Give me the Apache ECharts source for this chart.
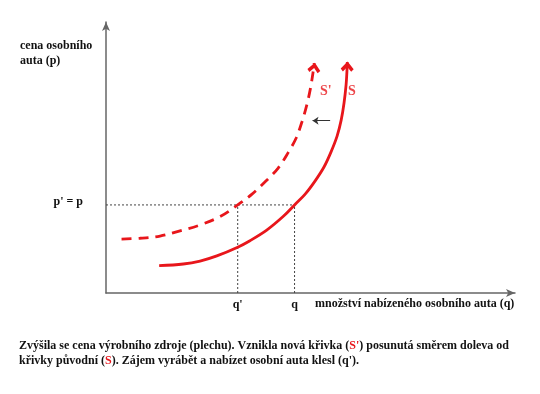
<!DOCTYPE html>
<html><head><meta charset="utf-8">
<script src="https://cdn.jsdelivr.net/npm/echarts@6/dist/echarts.min.js"></script>
<style>html,body{margin:0;padding:0;background:#fff}#c{width:540px;height:394px}</style>
</head><body><div id="c"></div>
<script>
// ---- data (abstract units, 0..100 on both axes) ----
const supplyS = [[13.0,10.1],[18.9,10.7],[23.0,11.8],[27.1,13.7],[32.2,16.9],[35.2,19.3],[39.3,23.2],[43.3,28.2],[46.1,32.5],[48.7,36.5],[51.1,41.3],[53.3,46.5],[55.0,52.0],[56.5,57.9],[57.5,63.8],[58.2,70.1],[58.7,76.8],[58.9,81.5],[59.0,85.2]];
const supplyS2 = [[3.8,19.9],[8.3,20.2],[13.2,21.0],[18.1,22.9],[23.0,25.1],[27.9,28.2],[32.2,32.5],[35.7,36.5],[39.1,41.3],[42.1,46.1],[44.5,51.7],[46.5,57.2],[47.9,63.1],[49.1,69.4],[50.0,75.6],[50.6,81.2],[50.9,84.8]];
const priceP = 32.5;
const qtyQ = 46.1;
const qtyQPrime = 32.2;
const shiftArrow = [[54.8,63.6],[50.5,63.6]];
const xTickValues = [qtyQPrime, qtyQ];
const xTickLabels = ["q'", "q"];
const yTickValues = [priceP];
const yTickLabels = ["p' = p"];
const curveNames = ["S", "S'"];
const curveLabelIndex = [16, 14];
const yTitle = "cena osobního\nauta (p)";
const xTitle = "množství nabízeného osobního auta (q)";

const RED = '#e8161b';
const FONT = '"Liberation Serif", "Times New Roman", serif';
const chevron = 'path://M50,0 L100,55 L82,75 L50,40 L18,75 L0,55 Z';

function curve(name, data, dash, rot) {
  const last = data.length - 1;
  return {
    name, type: 'line', data, smooth: 0.35, silent: true, z: 4,
    showSymbol: true, showAllSymbol: true,
    symbol: (v, p) => p.dataIndex === last ? chevron : 'none',
    symbolSize: [13, 10], symbolRotate: rot, symbolOffset: [0, '45%'],
    lineStyle: { color: RED, width: 2.8, type: dash },
    itemStyle: { color: RED }
  };
}
function guide(data) {
  return { type: 'line', data, silent: true, symbol: 'none', z: 2,
    lineStyle: { color: '#444', width: 1, type: [2, 2] } };
}
const curveLabelStyle = { color: RED, fontFamily: FONT, fontWeight: 'bold', fontSize: 14 };

const chart = echarts.init(document.getElementById('c'), null, { renderer: 'canvas' });
chart.setOption({
  animation: false,
  backgroundColor: '#fff',
  grid: { left: 106, top: 22, right: 25, bottom: 101, containLabel: false, outerBoundsMode: 'none' },
  xAxis: {
    type: 'value', min: 0, max: 100, splitLine: { show: false }, axisTick: { show: false },
    axisLine: { lineStyle: { color: '#666', width: 1.5 }, symbol: ['none', 'arrow'], symbolSize: [6, 9] },
    axisLabel: {
      customValues: xTickValues, margin: 6,
      formatter: v => xTickLabels[xTickValues.indexOf(v)],
      color: '#111', fontFamily: FONT, fontWeight: 'bold', fontSize: 12
    }
  },
  yAxis: {
    type: 'value', min: 0, max: 100, splitLine: { show: false }, axisTick: { show: false },
    axisLine: { lineStyle: { color: '#666', width: 1.5 }, symbol: ['none', 'arrow'], symbolSize: [6, 9] },
    axisLabel: {
      customValues: yTickValues, margin: 23,
      formatter: v => '{a|' + yTickLabels[yTickValues.indexOf(v)] + '}',
      rich: { a: { color: '#111', fontFamily: FONT, fontWeight: 'bold', fontSize: 12, padding: [0, 0, 6, 0] } }
    }
  },
  series: [
    guide([[0, priceP], [qtyQ, priceP]]),
    guide([[qtyQPrime, 0], [qtyQPrime, priceP]]),
    guide([[qtyQ, 0], [qtyQ, priceP]]),
    curve(curveNames[0], supplyS, 'solid', -3),
    curve(curveNames[1], supplyS2, [10, 7], -8),
    {
      type: 'scatter', silent: true, symbolSize: 0, z: 5,
      data: [
        { value: supplyS[curveLabelIndex[0]], label: Object.assign({ show: true, position: 'right', formatter: curveNames[0], distance: 2, offset: [0, 6.7] }, curveLabelStyle) },
        { value: supplyS2[curveLabelIndex[1]], label: Object.assign({ show: true, position: 'right', formatter: curveNames[1], distance: 9.5, offset: [0, 3.7] }, curveLabelStyle) }
      ],
      label: Object.assign({ show: true, position: 'right' }, curveLabelStyle)
    },
    {
      type: 'lines', coordinateSystem: 'cartesian2d', silent: true, z: 5,
      data: [{ coords: shiftArrow }],
      symbol: ['none', 'arrow'], symbolSize: 6,
      lineStyle: { color: '#333', width: 1.2, opacity: 1, curveness: 0 }
    }
  ],
  graphic: [
    { type: 'text', left: 20, top: 38, silent: true,
      style: { text: yTitle, font: 'bold 12px ' + FONT, fill: '#111', lineHeight: 15 } },
    { type: 'text', left: 315, top: 298, silent: true,
      style: { text: xTitle, font: 'bold 12px ' + FONT, fill: '#111' } },
    { type: 'text', left: 19, top: 340, silent: true,
      style: {
        text: "{b|Zvýšila se cena výrobního zdroje (plechu). Vznikla nová křivka (}{r|S'}{b|) posunutá směrem doleva od}\n{b|křivky původní (}{r|S}{b|). Zájem vyrábět a nabízet osobní auta klesl (q').}",
        rich: {
          b: { fontFamily: FONT, fontWeight: 'bold', fontSize: 12, fill: '#111', color: '#111', lineHeight: 15 },
          r: { fontFamily: FONT, fontWeight: 'bold', fontSize: 12, fill: RED, color: RED, lineHeight: 15 }
        }
      } }
  ]
});
</script></body></html>
